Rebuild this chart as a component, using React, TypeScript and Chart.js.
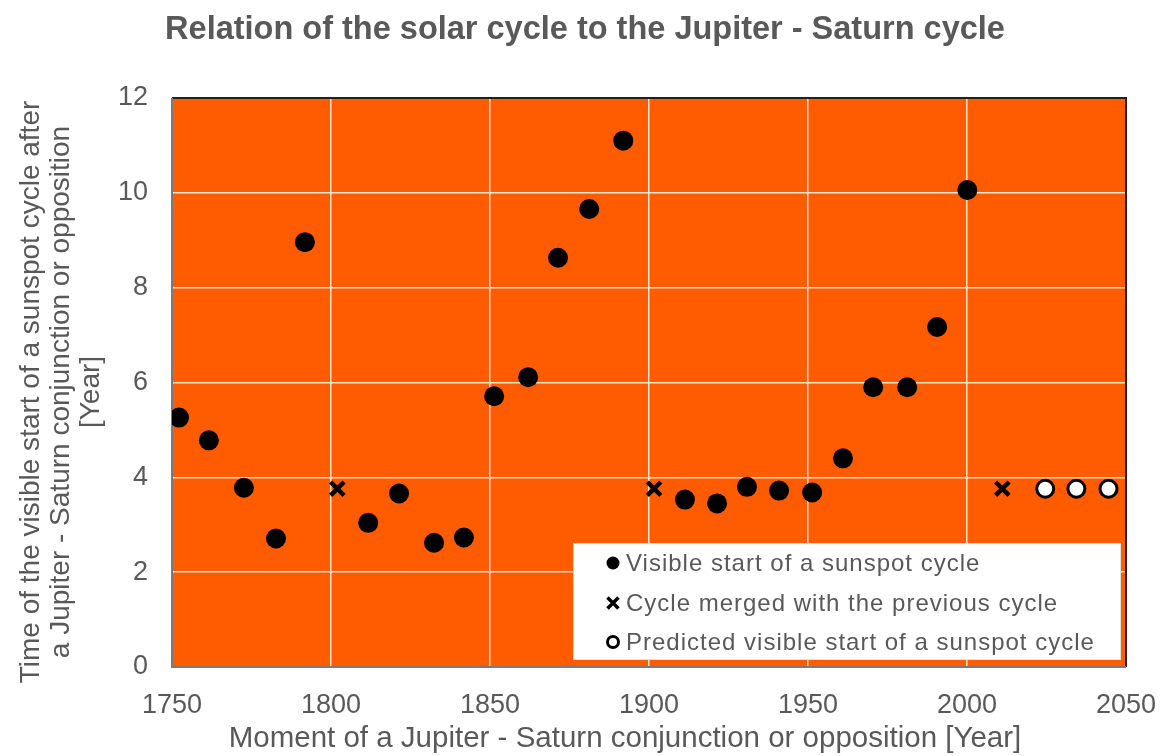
import React, { useEffect, useRef } from 'react';
import { Chart, registerables } from 'chart.js';

Chart.register(...registerables);

const chartTitle = 'Relation of the solar cycle to the Jupiter - Saturn cycle';
const xAxisTitle = 'Moment of a Jupiter - Saturn conjunction or opposition [Year]';
const yAxisTitle = [
  'Time of the visible start of a sunspot cycle after',
  'a Jupiter - Saturn conjunction or opposition',
  '[Year]',
];

const visibleYears = [1752.2, 1761.6, 1772.6, 1782.7, 1791.8, 1811.7, 1821.4, 1832.4, 1841.8, 1851.3, 1862.0, 1871.4, 1881.2, 1891.9, 1911.3, 1921.4, 1930.8, 1940.9, 1951.3, 1961.0, 1970.5, 1981.2, 1990.6, 2000.1];
const visibleLags = [5.26, 4.78, 3.78, 2.71, 8.96, 3.04, 3.66, 2.62, 2.73, 5.71, 6.11, 8.63, 9.66, 11.1, 3.53, 3.45, 3.8, 3.72, 3.68, 4.4, 5.9, 5.9, 7.17, 10.06];

const mergedYears = [1802.0, 1901.6, 2011.1];
const mergedLags = [3.76, 3.76, 3.76];

const predictedYears = [2024.6, 2034.4, 2044.5];
const predictedLags = [3.76, 3.76, 3.76];

const xTicks = [1750, 1800, 1850, 1900, 1950, 2000, 2050];
const yTicks = [0, 2, 4, 6, 8, 10, 12];

const legendLabels = [
  'Visible start of a sunspot cycle',
  'Cycle merged with the previous cycle',
  'Predicted visible start of a sunspot cycle',
];

const FONT = '"Liberation Sans", Arial, sans-serif';
const TEXT = '#595959';
const ORANGE = '#FF5B00';
const GRID = '#FFE3C8';

const toPoints = (xs: number[], ys: number[]) => xs.map((x, i) => ({ x, y: ys[i] }));

export default function App() {
  const ref = useRef<HTMLCanvasElement | null>(null);

  useEffect(() => {
    const canvas = ref.current;
    if (!canvas) return;

    const decor = {
      id: 'decor',
      beforeDraw(chart: any) {
        const { ctx, chartArea: a } = chart;
        ctx.save();
        ctx.fillStyle = '#ffffff';
        ctx.fillRect(0, 0, chart.width, chart.height);
        ctx.fillStyle = ORANGE;
        ctx.fillRect(a.left, a.top, a.right - a.left, a.bottom - a.top);
        ctx.restore();
      },
      beforeDatasetsDraw(chart: any) {
        const { ctx, chartArea: a } = chart;
        ctx.save();
        ctx.lineWidth = 2;
        ctx.strokeStyle = '#2b1d14';
        ctx.beginPath();
        ctx.moveTo(a.left, a.top);
        ctx.lineTo(a.right, a.top);
        ctx.lineTo(a.right, a.bottom);
        ctx.stroke();
        ctx.strokeStyle = '#7a7a7a';
        ctx.beginPath();
        ctx.moveTo(a.left, a.top);
        ctx.lineTo(a.left, a.bottom);
        ctx.lineTo(a.right, a.bottom);
        ctx.stroke();
        ctx.restore();
      },
      afterDatasetsDraw(chart: any) {
        const { ctx } = chart;
        ctx.save();
        const bx = 573, by = 543, bw = 548, bh = 117;
        ctx.fillStyle = '#ffffff';
        ctx.fillRect(bx, by, bw, bh);
        ctx.strokeStyle = '#e0e0e0';
        ctx.lineWidth = 1;
        ctx.strokeRect(bx + 0.5, by + 0.5, bw - 1, bh - 1);
        const rows = [563, 603, 642];
        const mx = 613;
        ctx.font = `24px ${FONT}`;
        (ctx as any).letterSpacing = '1px';
        ctx.textBaseline = 'middle';
        ctx.textAlign = 'left';
        legendLabels.forEach((label, i) => {
          const y = rows[i];
          ctx.strokeStyle = '#000';
          ctx.fillStyle = '#000';
          if (i === 0) {
            ctx.beginPath();
            ctx.arc(mx, y, 6.5, 0, Math.PI * 2);
            ctx.fill();
          } else if (i === 1) {
            ctx.lineWidth = 3.5;
            ctx.beginPath();
            ctx.moveTo(mx - 5.5, y - 5.5);
            ctx.lineTo(mx + 5.5, y + 5.5);
            ctx.moveTo(mx + 5.5, y - 5.5);
            ctx.lineTo(mx - 5.5, y + 5.5);
            ctx.stroke();
          } else {
            ctx.lineWidth = 3;
            ctx.fillStyle = '#fff';
            ctx.beginPath();
            ctx.arc(mx, y, 5.5, 0, Math.PI * 2);
            ctx.fill();
            ctx.stroke();
          }
          ctx.fillStyle = TEXT;
          ctx.fillText(label, 626, y + 1);
        });
        (ctx as any).letterSpacing = '0px';
        ctx.restore();
      },
      afterDraw(chart: any) {
        const { ctx } = chart;
        ctx.save();
        ctx.fillStyle = TEXT;
        ctx.textAlign = 'center';
        ctx.textBaseline = 'alphabetic';

        ctx.font = `bold 32.5px ${FONT}`;
        ctx.fillText(chartTitle, 585, 39);

        ctx.font = `29.5px ${FONT}`;
        ctx.fillText(xAxisTitle, 625, 747);

        ctx.font = `28px ${FONT}`;
        const baselines = [39, 69, 99];
        yAxisTitle.forEach((line, i) => {
          ctx.save();
          ctx.translate(baselines[i], 392);
          ctx.rotate(-Math.PI / 2);
          ctx.fillText(line, 0, 0);
          ctx.restore();
        });
        ctx.restore();
      },
    };

    const chart = new Chart(canvas, {
      type: 'scatter',
      data: {
        datasets: [
          {
            label: legendLabels[0],
            data: toPoints(visibleYears, visibleLags),
            pointStyle: 'circle',
            pointRadius: 10,
            pointBackgroundColor: '#000',
            pointBorderColor: '#000',
            pointBorderWidth: 0,
          },
          {
            label: legendLabels[1],
            data: toPoints(mergedYears, mergedLags),
            pointStyle: 'crossRot',
            pointRadius: 9.5,
            pointBorderColor: '#000',
            pointBorderWidth: 4.5,
          },
          {
            label: legendLabels[2],
            data: toPoints(predictedYears, predictedLags),
            pointStyle: 'circle',
            pointRadius: 8.5,
            pointBackgroundColor: '#fff',
            pointBorderColor: '#000',
            pointBorderWidth: 3,
          },
        ],
      },
      options: {
        responsive: false,
        animation: false,
        devicePixelRatio: 1,
        layout: { padding: { left: 0, right: 0, top: 98, bottom: 0 } },
        plugins: {
          legend: { display: false },
          title: { display: false },
          tooltip: { enabled: false },
        },
        scales: {
          x: {
            type: 'linear',
            min: 1750,
            max: 2050,
            afterBuildTicks: (s: any) => {
              s.ticks = xTicks.map((v) => ({ value: v }));
            },
            afterFit: (s: any) => {
              s.height = 89;
              s.paddingRight = 43;
              s.paddingLeft = 0;
            },
            grid: { color: GRID, lineWidth: 1.5, drawTicks: false },
            border: { display: false },
            ticks: {
              color: TEXT,
              font: { family: FONT, size: 27 },
              padding: 22,
              maxRotation: 0,
              autoSkip: false,
              callback: (v: any) => String(v),
            },
            title: { display: false },
          },
          y: {
            type: 'linear',
            min: 0,
            max: 12,
            afterBuildTicks: (s: any) => {
              s.ticks = yTicks.map((v) => ({ value: v }));
            },
            afterFit: (s: any) => {
              s.width = 172;
            },
            grid: { color: GRID, lineWidth: 1.5, drawTicks: false },
            border: { display: false },
            ticks: {
              color: TEXT,
              font: { family: FONT, size: 27 },
              padding: 24,
              autoSkip: false,
              callback: (v: any) => String(v),
            },
            title: { display: false },
          },
        },
      },
      plugins: [decor],
    });

    return () => chart.destroy();
  }, []);

  return (
    <div style={{ position: 'fixed', left: 0, top: 0, width: 1169, height: 756, background: '#fff' }}>
      <canvas ref={ref} width={1169} height={756} style={{ display: 'block', width: 1169, height: 756 }} />
    </div>
  );
}
